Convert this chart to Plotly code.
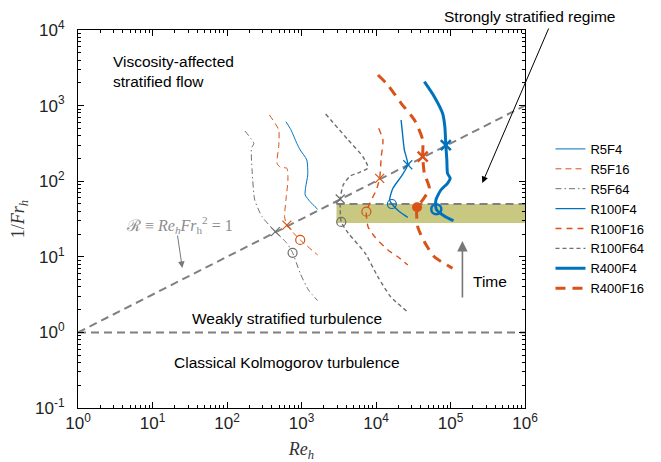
import plotly.graph_objects as go

# ---------------- data ----------------
x_tick_vals = [1, 10, 100, 1e3, 1e4, 1e5, 1e6]
x_tick_text = ["10<sup>0</sup>", "10<sup>1</sup>", "10<sup>2</sup>", "10<sup>3</sup>",
               "10<sup>4</sup>", "10<sup>5</sup>", "10<sup>6</sup>"]
y_tick_vals = [0.1, 1, 10, 100, 1e3, 1e4]
y_tick_text = ["10<sup>-1</sup>", "10<sup>0</sup>", "10<sup>1</sup>", "10<sup>2</sup>",
               "10<sup>3</sup>", "10<sup>4</sup>"]

series_names = ["R5F4", "R5F16", "R5F64", "R100F4", "R100F16", "R100F64", "R400F4", "R400F16"]

r5f4_re = [618, 720, 865, 961, 1177, 1213, 1140, 1120, 1306, 1648]
r5f4_fr = [612, 480, 317, 259, 191, 121, 84.6, 65.7, 53.6, 42.5]

r5f16_re = [371, 494, 494, 469, 520, 637, 657, 618, 593, 637, 961, 1648]
r5f16_fr = [751, 476, 286, 173, 153, 148, 104, 56.4, 33.9, 26.3, 16.7, 10.6]

r5f64_re = [174, 229, 213, 217, 236, 296, 446, 637, 759, 961, 1240, 1648]
r5f64_fr = [461, 317, 272, 141, 56.4, 33.9, 21.5, 15.1, 11.3, 6.05, 3.64, 2.63]

r100f4_re = [21740, 22900, 24000, 26700, 21740, 16860, 15240, 16340, 20700, 26700]
r100f4_fr = [645, 388, 260, 165, 115, 80.5, 56.4, 49.9, 39.5, 33.3]

r100f16_re = [10860, 12390, 11770, 11190, 10090, 8240, 7430, 7820, 9610, 14450, 19650, 26700]
r100f16_fr = [501, 351, 211, 109, 76.5, 51.0, 39.5, 25.0, 18.4, 12.3, 10.0, 7.79]

r100f64_re = [2109, 4236, 6710, 7820, 6120, 4500, 3630, 3311, 3311, 3415, 4236, 7130, 10630, 15850, 26700]
r100f64_fr = [774, 351, 209, 150, 132, 117, 89.1, 58.2, 41.6, 28.9, 20.6, 11.2, 5.40, 2.94, 1.86]

r400f4_re = [44570, 60630, 78200, 83950, 86500, 89300, 91200, 99100, 91200, 74300, 63680, 64420, 82380, 109600]
r400f4_fr = [2070, 1312, 791, 526, 301, 191, 127, 109, 93.8, 76.5, 56.4, 42.5, 34.7, 30.0]

r400f16_re = [10630, 14450, 21740, 32800, 42360, 42360, 44570, 52000, 42360, 35560, 36310, 44570, 60630, 106300]
r400f16_fr = [2540, 1872, 1072, 645, 351, 211, 127, 80.5, 56.4, 45.2, 25.0, 15.8, 10.0, 7.05]

# x markers (crossing R = 1) and o markers
cross_re = [637, 446, 26700, 11190, 3311, 86500, 42360]
cross_fr = [26.3, 21.5, 165, 109, 58.2, 301, 211]
cross_series = ["R5F16", "R5F64", "R100F4", "R100F16", "R100F64", "R400F4", "R400F16"]

circ_re = [961, 759, 16340, 7430, 3415, 64420, 35560]
circ_fr = [16.7, 11.3, 49.9, 39.5, 28.9, 42.5, 45.2]
circ_series = ["R5F16", "R5F64", "R100F4", "R100F16", "R100F64", "R400F4", "R400F16"]

# reference lines and band
rline_re = [1, 1e6]
rline_fr = [1, 1e3]
unit_re = [1, 1e6]
unit_fr = [1, 1]
band_re = [2950, 1e6]
band_fr = [28, 50]

# ---------------- styles ----------------
BLUE = "#0072BD"
ORANGE = "#D95319"
GRAY = "#6e6e6e"
REFGRAY = "#808080"

styles = {
    "R5F4": dict(color=BLUE, width=1, dash="solid"),
    "R5F16": dict(color=ORANGE, width=1, dash="6px,4px"),
    "R5F64": dict(color=GRAY, width=1, dash="6px,3px,1.5px,3px"),
    "R100F4": dict(color=BLUE, width=1.4, dash="solid"),
    "R100F16": dict(color=ORANGE, width=1.4, dash="6px,5px"),
    "R100F64": dict(color=GRAY, width=1.4, dash="4px,3px"),
    "R400F4": dict(color=BLUE, width=3, dash="solid"),
    "R400F16": dict(color=ORANGE, width=3, dash="10px,7px"),
}
data = {
    "R5F4": (r5f4_re, r5f4_fr), "R5F16": (r5f16_re, r5f16_fr), "R5F64": (r5f64_re, r5f64_fr),
    "R100F4": (r100f4_re, r100f4_fr), "R100F16": (r100f16_re, r100f16_fr),
    "R100F64": (r100f64_re, r100f64_fr), "R400F4": (r400f4_re, r400f4_fr),
    "R400F16": (r400f16_re, r400f16_fr),
}

fig = go.Figure()

# band
fig.add_shape(type="rect", xref="x", yref="y", x0=band_re[0], x1=band_re[1],
              y0=band_fr[0], y1=band_fr[1], fillcolor="rgb(200,200,128)",
              line=dict(width=0), layer="below")

# reference dashed lines
for xs, ys in [(rline_re, rline_fr), (unit_re, unit_fr), (band_re, [band_fr[1], band_fr[1]])]:
    fig.add_trace(go.Scatter(x=xs, y=ys, mode="lines", showlegend=False, hoverinfo="skip",
                             line=dict(color=REFGRAY, width=2, dash="8px,5px")))

for name in series_names:
    xs, ys = data[name]
    st = styles[name]
    fig.add_trace(go.Scatter(x=xs, y=ys, mode="lines", name=name,
                             line=dict(color=st["color"], width=st["width"], dash=st["dash"],
                                       shape="spline", smoothing=0.6)))

for xv, yv, s in zip(cross_re, cross_fr, cross_series):
    st = styles[s]
    thick = s.startswith("R400")
    fig.add_trace(go.Scatter(x=[xv], y=[yv], mode="markers", showlegend=False, hoverinfo="skip",
                             marker=dict(symbol="x-thin", size=10 if thick else 9,
                                         line=dict(color=st["color"], width=2.5 if thick else 1.2))))

for xv, yv, s in zip(circ_re, circ_fr, circ_series):
    st = styles[s]
    if s == "R400F16":
        mk = dict(symbol="circle", size=10, color=st["color"])
    else:
        thick = s.startswith("R400")
        mk = dict(symbol="circle-open", size=10 if thick else 9, color=st["color"],
                  line=dict(color=st["color"], width=2.5 if thick else 1.2))
    fig.add_trace(go.Scatter(x=[xv], y=[yv], mode="markers", showlegend=False,
                             hoverinfo="skip", marker=mk))

# ---------------- axes ----------------
def minor_vals(lo, hi):
    out = []
    for n in range(lo, hi):
        for k in range(2, 10):
            out.append(k * 10.0 ** n)
    return out

axis_common = dict(type="log", showgrid=False, zeroline=False, showline=True,
                   linecolor="black", linewidth=1, mirror="ticks", ticks="inside",
                   ticklen=6, tickcolor="black", tickfont=dict(size=17, color="#222"),
                   automargin=False)

fig.update_xaxes(range=[0, 6], tickvals=x_tick_vals, ticktext=x_tick_text,
                 minor=dict(tickvals=minor_vals(0, 6), ticks="inside", ticklen=3, tickcolor="black"),
                 title=dict(text="<i>Re<sub>h</sub></i>",
                            font=dict(family="Liberation Serif", size=18, color="#333"), standoff=14),
                 **axis_common)
fig.update_yaxes(range=[-1, 4], tickvals=y_tick_vals, ticktext=y_tick_text,
                 minor=dict(tickvals=minor_vals(-1, 4), ticks="inside", ticklen=3, tickcolor="black"),
                 title=dict(text="1/<i>Fr<sub>h</sub></i>",
                            font=dict(family="Liberation Serif", size=18, color="#333"), standoff=12),
                 ticklabelstandoff=9,
                 **axis_common)

# ---------------- annotations ----------------
def px2paper(px, py):
    return (px - 78) / 450.0, (408 - py) / 378.0

def add_text(text, px, py, color="black", size=15.5, family="Liberation Sans", xanchor="left"):
    xp, yp = px2paper(px, py)
    fig.add_annotation(text=text, x=xp, y=yp, xref="paper", yref="paper", showarrow=False,
                       xanchor=xanchor, yanchor="middle", align="left",
                       font=dict(size=size, color=color, family=family))

add_text("Viscosity-affected<br>stratified flow", 111, 71)
add_text("Strongly stratified regime", 533, 16, xanchor="center")
add_text("Weakly stratified turbulence", 288, 318, xanchor="center")
add_text("Classical Kolmogorov turbulence", 288, 362, xanchor="center")
add_text("Time", 474, 281)
add_text("ℛ ≡ <i>Re<sub>h</sub>Fr</i><sub>h</sub><sup>2</sup> = 1", 180, 225, color="#8c8c8c",
         size=16, family="Liberation Serif", xanchor="center")

# arrows (head in paper coords, tail offset in pixels)
def add_arrow(hx, hy, tx, ty, color, width):
    xp, yp = px2paper(hx, hy)
    fig.add_annotation(text="", x=xp, y=yp, xref="paper", yref="paper", ax=tx - hx, ay=ty - hy,
                       showarrow=True, arrowhead=2, arrowsize=1.3, arrowwidth=width,
                       arrowcolor=color)

add_arrow(485, 183, 552, 27, "black", 1)
add_arrow(465, 241, 465, 299, "#777777", 1.6)
add_arrow(183, 268, 178, 234, "#777777", 1)

# the page body adds an 8px margin, so the figure is 8px smaller on each side
fig.update_layout(
    width=653, height=454,
    margin=dict(l=70, r=133, t=22, b=54),
    paper_bgcolor="white", plot_bgcolor="white",
    font=dict(family="Liberation Sans", color="black"),
    legend=dict(x=1.057, y=0.725, xanchor="left", yanchor="top",
                font=dict(size=13, color="black"), bgcolor="rgba(0,0,0,0)",
                itemwidth=30, tracegroupgap=0),
    showlegend=True,
)

fig.write_html("out.html")
